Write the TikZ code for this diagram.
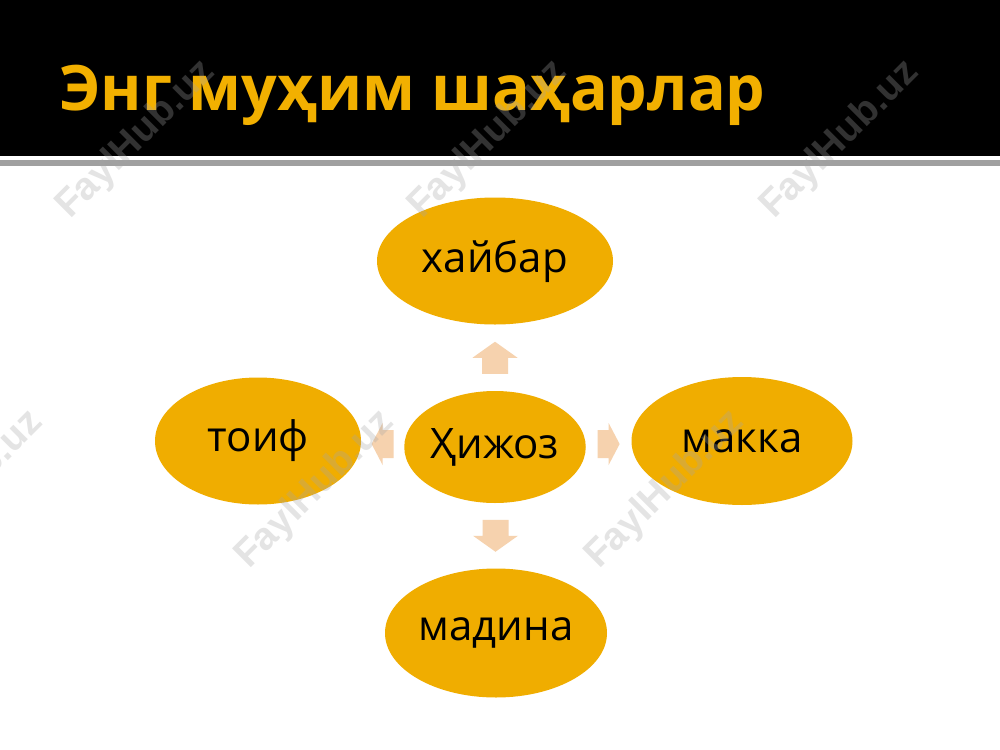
\documentclass[tikz,border=0pt]{standalone}
\usepackage{fontspec}
\setmainfont{Open Sans}
\newfontfamily\wmfont{Liberation Sans}
\usetikzlibrary{shapes.geometric,calc}
\definecolor{titlegold}{RGB}{242,176,0}
\definecolor{ovalgold}{RGB}{240,173,0}
\definecolor{peach}{RGB}{246,210,174}
\definecolor{rulegray}{RGB}{160,160,160}
\tikzset{
  oval/.style={ellipse, fill=ovalgold, inner sep=0pt, font=\fontsize{31.5}{38}\selectfont, text=black},
  wmark/.style={rotate=45, text=gray!70, opacity=0.3, font=\wmfont\bfseries\fontsize{29}{34}\selectfont, inner sep=0pt},
  blockarrow/.style={fill=peach}
}
\begin{document}
\begin{tikzpicture}[x=0.75pt,y=-0.75pt]
\useasboundingbox (0,0) rectangle (1000,750);
\fill[white] (0,0) rectangle (1000,750);
% header band
\fill[black] (0,0) rectangle (1000,156);
\fill[rulegray] (0,160) rectangle (1000,166);
\node[anchor=base west, inner sep=0pt, text=titlegold, font=\bfseries\fontsize{47}{56}\selectfont] (title) at (59,110) {Энг муҳим шаҳарлар};
% ovals
\node[oval, minimum width=177pt, minimum height=95.25pt] (top) at (495,261) {хайбар};
\node[oval, minimum width=131.25pt, minimum height=84pt] (c) at (495,447) {Ҳижоз};
\node[oval, minimum width=154.5pt, minimum height=95.25pt] (left) at (258,441) {тоиф};
\node[oval, minimum width=165.75pt, minimum height=96pt] (right) at (742,441) {макка};
\node[oval, minimum width=166.5pt, minimum height=96.75pt] (bottom) at (496,633) {мадина};
% block arrows
\coordinate (au) at ($(c.north)!0.5!(top.south)$);
\coordinate (ad) at ($(c.south)!0.5!(bottom.north)$);
\coordinate (ar) at ($(c.east)!0.5!(right.west)$);
\coordinate (al) at ($(c.west)!0.5!(left.east)$);
% up
\fill[blockarrow] ($(au)+(-13,16)$) -- ($(au)+(-13,0)$) -- ($(au)+(-22.5,0)$) -- ($(au)+(0,-16)$) -- ($(au)+(22.5,0)$) -- ($(au)+(13,0)$) -- ($(au)+(13,16)$) -- cycle;
% down
\fill[blockarrow] ($(ad)+(-13,-16)$) -- ($(ad)+(-13,0)$) -- ($(ad)+(-22.5,0)$) -- ($(ad)+(0,16)$) -- ($(ad)+(22.5,0)$) -- ($(ad)+(13,0)$) -- ($(ad)+(13,-16)$) -- cycle;
% right
\fill[blockarrow] ($(ar)+(-11,-14)$) -- ($(ar)+(0,-14)$) -- ($(ar)+(0,-21)$) -- ($(ar)+(11,0)$) -- ($(ar)+(0,21)$) -- ($(ar)+(0,14)$) -- ($(ar)+(-11,14)$) -- cycle;
% left
\fill[blockarrow] ($(al)+(11,-14)$) -- ($(al)+(0,-14)$) -- ($(al)+(0,-21)$) -- ($(al)+(-11,0)$) -- ($(al)+(0,21)$) -- ($(al)+(0,14)$) -- ($(al)+(11,14)$) -- cycle;
% watermarks
\node[wmark] (w1) at (136,140) {FaylHub.uz};
\node[wmark] (w2) at (488,140) {FaylHub.uz};
\node[wmark] (w3) at (840,140) {FaylHub.uz};
\node[wmark] (w4) at (-36,490) {FaylHub.uz};
\node[wmark] (w5) at (315,490) {FaylHub.uz};
\node[wmark] (w6) at (665,490) {FaylHub.uz};
\end{tikzpicture}
\end{document}
